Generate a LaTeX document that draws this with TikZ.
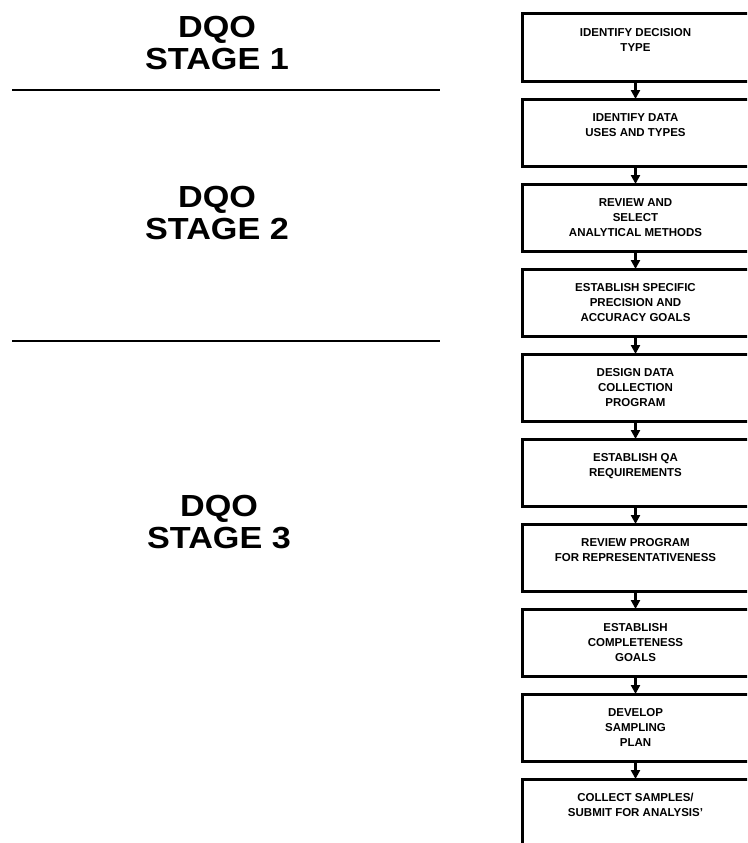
\documentclass[tikz,border=0pt]{standalone}
\usepackage{fontspec}
\setmainfont{Liberation Sans}
\usepackage{graphicx}
\usepackage{tikz}
\usetikzlibrary{arrows.meta}
\usetikzlibrary{positioning}

% wide stage heading, two lines
\newcommand{\stagetxt}[1]{\scalebox{1.12}[1]{DQO}\\\scalebox{1.12}[1]{STAGE #1}}

\tikzset{
  stepbox/.style={draw, line width=3pt, minimum width=227pt, minimum height=67pt,
    inner sep=0pt, outer sep=0pt, align=center, font=\fontsize{11.5}{15}\selectfont\bfseries},
  stagelabel/.style={align=center, font=\fontsize{30.5}{32}\selectfont\bfseries},
  flow/.style={line width=2.4pt, -{Triangle[length=9pt,width=9pt]}},
  divider/.style={line width=2pt}
}

\begin{document}
\begin{tikzpicture}[x=1pt, y=-1pt, node distance=18pt]

\useasboundingbox (0,0) rectangle (747,843);
\clip (0,0) rectangle (747,843);

% stage labels
\node[stagelabel] (stage1) at (217,43.5) {\stagetxt{1}};
\node[stagelabel] (stage2) at (217,212.5) {\stagetxt{2}};
\node[stagelabel] (stage3) at (219,522.5) {\stagetxt{3}};

\coordinate (d1a) at (12,90);
\coordinate (d1b) at (440,90);
\coordinate (d2a) at (12,341);
\coordinate (d2b) at (440,341);
\draw[divider] (d1a) -- (d1b);
\draw[divider] (d2a) -- (d2b);

% steps
\node[stepbox] (b1) at (635.5,47.5) {IDENTIFY DECISION\\TYPE\\ };
\node[stepbox, below=of b1] (b2) {IDENTIFY DATA\\USES AND TYPES\\ };
\node[stepbox, below=of b2] (b3) {REVIEW AND\\SELECT\\ANALYTICAL METHODS};
\node[stepbox, below=of b3] (b4) {ESTABLISH SPECIFIC\\PRECISION AND\\ACCURACY GOALS};
\node[stepbox, below=of b4] (b5) {DESIGN DATA\\COLLECTION\\PROGRAM};
\node[stepbox, below=of b5] (b6) {ESTABLISH QA\\REQUIREMENTS\\ };
\node[stepbox, below=of b6] (b7) {REVIEW PROGRAM\\FOR REPRESENTATIVENESS\\ };
\node[stepbox, below=of b7] (b8) {ESTABLISH\\COMPLETENESS\\GOALS};
\node[stepbox, below=of b8] (b9) {DEVELOP\\SAMPLING\\PLAN};
\node[stepbox, below=of b9] (b10) {COLLECT SAMPLES/\\SUBMIT FOR ANALYSIS'\\ };

\foreach \i/\j in {b1/b2, b2/b3, b3/b4, b4/b5, b5/b6, b6/b7, b7/b8, b8/b9, b9/b10}
  \draw[flow] (\i) -- (\j);

\end{tikzpicture}
\end{document}
